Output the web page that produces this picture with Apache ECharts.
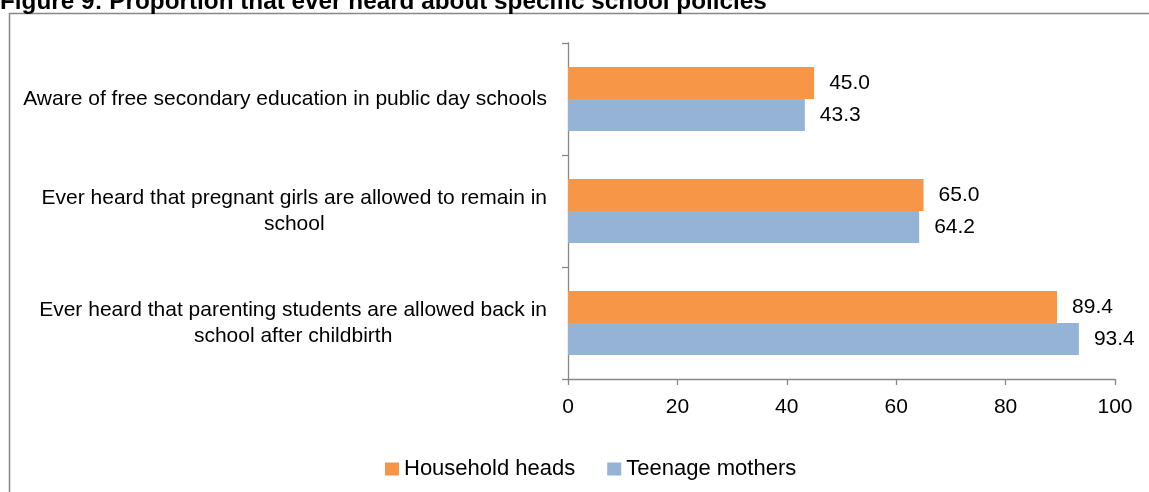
<!DOCTYPE html>
<html><head><meta charset="utf-8">
<script src="https://cdn.jsdelivr.net/npm/echarts@6/dist/echarts.min.js"></script>
<style>html,body{margin:0;padding:0;background:#fff}#c{width:1149px;height:492px}</style>
</head><body><div id="c"></div>
<script>
const titleText = 'Figure 9: Proportion that ever heard about specific school policies';
const categories = [
  'Aware of free secondary education in public day schools',
  'Ever heard that pregnant girls are allowed to remain in\nschool',
  'Ever heard that parenting students are allowed back in\nschool after childbirth'
];
const seriesNames = ['Household heads', 'Teenage mothers'];
const householdHeads = [45.0, 65.0, 89.4];
const teenageMothers = [43.3, 64.2, 93.4];
const xMin = 0, xMax = 100, xStep = 20;

const FONT = '"Liberation Sans", Arial, sans-serif';
const FS = 21;
const chart = echarts.init(document.getElementById('c'), null, {renderer: 'canvas'});
const labelStyle = {
  show: true, position: 'right', distance: 15, color: '#000',
  fontFamily: FONT, fontSize: FS,
  formatter: p => p.value.toFixed(1)
};
chart.setOption({
  animation: false,
  backgroundColor: '#fff',
  graphic: [
    {type: 'rect', shape: {x: 9.5, y: 13.5, width: 1300, height: 600},
     style: {fill: 'none', stroke: '#878787', lineWidth: 1.5}, silent: true},
    {type: 'text', left: 0, top: -10,
     style: {text: titleText, fontFamily: FONT, fontWeight: 'bold', fontSize: 24.3, fill: '#000'}}
  ],
  legend: {
    left: 380, top: 453, itemWidth: 14, itemHeight: 13, itemGap: 32,
    icon: 'rect', data: seriesNames,
    textStyle: {fontFamily: FONT, fontSize: 22, color: '#000'}
  },
  grid: {left: 568, right: 34, top: 43, bottom: 113, containLabel: false, outerBoundsMode: 'none'},
  xAxis: {
    type: 'value', min: xMin, max: xMax, interval: xStep,
    axisLine: {show: true, lineStyle: {color: '#878787', width: 1.3}},
    axisTick: {show: true, length: 6, lineStyle: {color: '#878787', width: 1.3}},
    splitLine: {show: false},
    axisLabel: {margin: 18, color: '#000', fontFamily: FONT, fontSize: FS}
  },
  yAxis: {
    type: 'category', inverse: true, data: categories,
    axisLine: {show: true, lineStyle: {color: '#878787', width: 1.3}},
    axisTick: {show: true, length: 6, lineStyle: {color: '#878787', width: 1.3}},
    axisLabel: {
      margin: 21, color: '#000', fontFamily: FONT, fontSize: FS, lineHeight: 26,
      formatter: v => v.split('\n').map(l => '{c|' + l + '}').join('\n'),
      rich: {c: {align: 'center', fontFamily: FONT, fontSize: FS, lineHeight: 26, color: '#000'}}
    }
  },
  series: [
    {name: seriesNames[0], type: 'bar', data: householdHeads, barWidth: 32, barGap: '0%',
     itemStyle: {color: '#F79646'}, label: labelStyle},
    {name: seriesNames[1], type: 'bar', data: teenageMothers, barWidth: 32, barGap: '0%',
     itemStyle: {color: '#95B3D7'}, label: labelStyle}
  ]
});
</script></body></html>
